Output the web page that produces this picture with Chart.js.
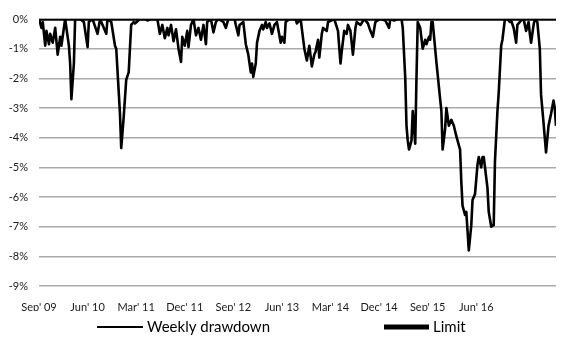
<!DOCTYPE html>
<html>
<head>
<meta charset="utf-8">
<title>Weekly drawdown</title>
<script src="https://cdn.jsdelivr.net/npm/chart.js@4.4.0/dist/chart.umd.min.js"></script>
<style>
  html, body { margin: 0; padding: 0; background: #fff; }
  #wrap { width: 563px; height: 339px; }
</style>
</head>
<body>
<div id="wrap"><canvas id="ddChart" width="563" height="339"></canvas></div>
<script>
// weeks counted from Sep 2009, drawdown in %
const weeks = [0,2,3,5,6,8,9,11,13,15,17,18,20,21,24,25,26,28,29,33,36,39,40,43,47,49,54,55,58,61,62,65,66,68,70,72,74,76,77,81,85,87,90,95,97,99,101,103,104,106,108,110,112,114,115,117,119,120,122,124,126,128,130,132,134,135,138,140,142,144,148,150,152,157,158,160,161,164,166,168,170,171,172,174,175,177,179,180,182,183,185,187,189,191,194,195,197,198,201,206,207,210,213,215,217,219,221,222,224,225,227,228,231,232,237,240,242,243,245,247,248,250,252,254,255,258,261,264,266,268,270,274,278,281,282,285,288,291,292,294,295,296,297,299,300,302,303,304,306,308,310,311,313,314,315,316,319,322,323,324,326,327,329,331,333,335,338,339,340,342,343,345,347,348,350,352,353,355,356,357,360,361,363,365,366,368,369,371,372,374,376,378,379,381,383,384,387,389,391,393,394,395,397,398,400,402,403,405,406,407,409,410,411,413,414,415];
const drawdown = [0,-0.3,-0.1,-0.9,-0.4,-0.85,-0.5,-0.8,-0.3,-1.2,-0.6,-0.9,-0.3,0,-0.9,-1.5,-2.7,-1.5,0,0,-0.1,-0.95,-0.1,0,-0.5,0,-0.5,0,-0.1,-0.9,-1.0,-3.2,-4.35,-3.3,-2.05,-1.8,-0.2,-0.1,-0.15,0,0,-0.05,0,0,-0.5,-0.2,-0.65,-0.3,-0.55,-0.2,-0.75,-0.35,-1.0,-1.45,-0.6,-0.9,-0.4,-0.95,-0.2,0,-0.55,-0.3,-0.7,-0.2,-0.85,-0.1,0,-0.45,-0.1,0,-0.1,-0.3,0,0,-0.2,-0.55,-0.2,-0.1,-0.85,-1.2,-1.8,-1.5,-1.95,-1.5,-0.8,-0.4,-0.2,-0.35,-0.1,-0.3,-0.15,-0.5,-0.2,-0.1,-0.8,-0.6,-0.8,-0.1,0,0,-0.15,0,-1.0,-1.4,-0.9,-1.6,-1.2,-1.1,-0.7,-1.3,-0.5,-0.3,-0.4,-0.1,0,-0.4,-1.5,-1.1,-0.4,-0.5,-0.2,-0.4,-1.2,-0.3,-0.1,-0.2,0,-0.15,-0.4,-0.6,-0.1,0,-0.05,-0.3,0,-0.05,0,0,-0.3,-2.0,-3.6,-4.1,-4.4,-4.1,-3.1,-4.2,-2.0,-0.1,-0.3,-1.0,-0.7,-0.85,-0.6,-0.7,-0.1,-0.1,-1.45,-2.7,-3.1,-4.4,-3.7,-3.0,-3.6,-3.4,-3.6,-3.95,-4.4,-5.5,-6.3,-6.6,-6.5,-7.8,-6.95,-6.1,-5.9,-4.9,-4.65,-5.0,-4.65,-4.65,-5.7,-6.5,-7.0,-6.95,-4.8,-3.1,-2.5,-0.9,-0.7,0,0,-0.1,-0.05,-0.3,-0.8,-0.2,-0.05,0,-0.4,-0.1,-0.5,-0.8,-0.2,0,-0.1,-1.0,-2.55,-3.5,-4.0,-4.5,-3.6,-3.4,-3.2,-2.75,-3.0,-3.6];
const limitLevel = 0;
const tickLabels = ["Sep' 09", "Jun' 10", "Mar' 11", "Dec' 11", "Sep' 12", "Jun' 13", "Mar' 14", "Dec' 14", "Sep' 15", "Jun' 16"];
const weeksPerTick = 39;

const fontFamily = 'Lato, "DejaVu Sans", sans-serif';

// legend at the bottom with long line samples, far apart like excel
const bottomLegend = {
  id: 'bottomLegend',
  afterDraw(chart) {
    const c = chart.ctx;
    const y = 327;
    const spots = [{ x: 97, len: 46, w: 2 }, { x: 384, len: 45, w: 5 }];
    c.save();
    c.font = '15px ' + fontFamily;
    c.textBaseline = 'middle';
    chart.data.datasets.forEach((ds, i) => {
      const s = spots[i];
      c.strokeStyle = ds.borderColor;
      c.lineWidth = s.w;
      c.lineCap = 'butt';
      c.beginPath();
      c.moveTo(s.x, y);
      c.lineTo(s.x + s.len, y);
      c.stroke();
      c.fillStyle = '#000';
      c.fillText(ds.label, s.x + s.len + 4, y);
    });
    c.restore();
  }
};

const ctx = document.getElementById('ddChart').getContext('2d');
const chart = new Chart(ctx, {
  type: 'line',
  data: {
    datasets: [
      {
        label: 'Weekly drawdown',
        data: weeks.map((w, i) => ({ x: w, y: drawdown[i] })),
        borderColor: '#000',
        borderWidth: 2.6,
        borderJoinStyle: 'round',
        pointRadius: 0,
        tension: 0,
        fill: false
      },
      {
        label: 'Limit',
        data: [weeks[0], weeks[weeks.length - 1]].map(w => ({ x: w, y: limitLevel })),
        borderColor: '#000',
        borderWidth: 3.5,
        pointRadius: 0,
        fill: false
      }
    ]
  },
  options: {
    responsive: false,
    animation: false,
    layout: { padding: { top: 19, right: 0, bottom: 28, left: 0 } },
    plugins: {
      legend: { display: false },
      tooltip: { enabled: false }
    },
    scales: {
      x: {
        type: 'linear',
        min: weeks[0],
        max: weeks[weeks.length - 1],
        afterFit: (scale) => { scale.height = 25; },
        grid: { display: false },
        border: { display: false },
        ticks: {
          stepSize: weeksPerTick,
          autoSkip: false,
          maxRotation: 0,
          padding: 7,
          color: '#1a1a1a',
          font: { family: fontFamily, size: 11 },
          callback: (v) => tickLabels[v / weeksPerTick] || ''
        }
      },
      y: {
        min: -9,
        max: 0,
        afterFit: (scale) => { scale.width = 39; },
        grid: { color: '#aaaaaa', lineWidth: 1.5, drawTicks: false },
        border: { display: false },
        ticks: {
          stepSize: 1,
          padding: 11,
          color: '#1a1a1a',
          font: { family: fontFamily, size: 11 },
          callback: (v) => v + '%'
        }
      }
    }
  },
  plugins: [bottomLegend]
});
</script>
</body>
</html>
